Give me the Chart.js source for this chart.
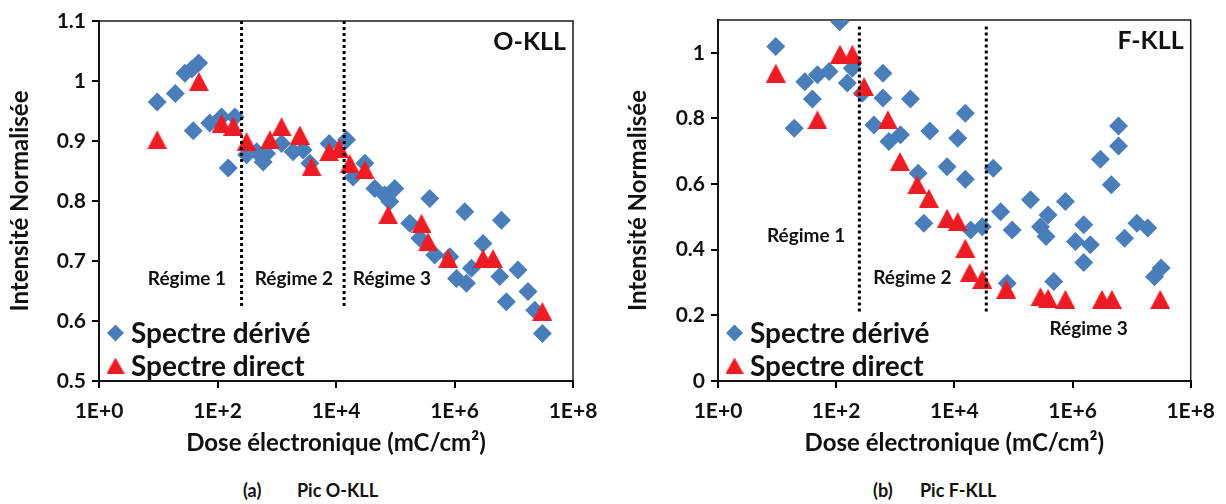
<!DOCTYPE html>
<html lang="fr">
<head>
<meta charset="utf-8">
<script src="https://cdn.jsdelivr.net/npm/chart.js@4.4.1/dist/chart.umd.min.js"></script>
<style>
    body { margin: 0; width: 1226px; height: 504px; background: #fff; position: relative; overflow: hidden; font-family: Lato, sans-serif; }
    .panneau { position: absolute; top: 0; height: 460px; }
    .legende-fig { position: absolute; top: 479px; font: bold 18px Lato, sans-serif; color: #111; white-space: nowrap; }
</style>
</head>
<body>
<div class="panneau" style="left:0; width:610px;"><canvas id="graph-o-kll"></canvas></div>
<div class="panneau" style="left:610px; width:616px;"><canvas id="graph-f-kll"></canvas></div>
<div class="legende-fig" style="left:243px;">(a)</div>
<div class="legende-fig" style="left:297px;">Pic O-KLL</div>
<div class="legende-fig" style="left:873px;">(b)</div>
<div class="legende-fig" style="left:920px;">Pic F-KLL</div>
<script>
'use strict';

// Noms des séries
const nomsSeries = ['Spectre dérivé', 'Spectre direct'];

// Graduations
const ticksDose = [1, 1e2, 1e4, 1e6, 1e8];
const ticksO = [0.5, 0.6, 0.7, 0.8, 0.9, 1.0, 1.1];
const ticksF = [0, 0.2, 0.4, 0.6, 0.8, 1.0];

// Pic O-KLL : spectre dérivé
const doseDeriveO = [9.6, 19.4, 28.2, 37, 48, 39, 74, 117, 197, 152, 310, 457, 590, 673, 1205, 1890, 2790, 3620,
    7660, 15070, 19450, 30640, 45150, 66640, 98300, 80900, 382500, 175800, 259500, 464500, 831800,
    1.49e6, 1.08e6, 1.59e6, 1.93e6, 3.03e6, 6.2e6, 5.8e6, 1.18e7, 7.5e6, 1.74e7, 2.26e7, 3.04e7];
const intDeriveO = [0.965, 0.979, 1.013, 1.02, 1.030, 0.917, 0.930, 0.940, 0.940, 0.855, 0.877, 0.882, 0.865, 0.879,
    0.896, 0.882, 0.885, 0.863, 0.896, 0.902, 0.840, 0.863, 0.821, 0.810, 0.821, 0.799, 0.804, 0.763, 0.738,
    0.710, 0.707, 0.782, 0.671, 0.663, 0.688, 0.729, 0.768, 0.674, 0.685, 0.632, 0.649, 0.618, 0.579];

// Pic O-KLL : spectre direct
const doseDirectO = [9.6, 48.6, 117, 184, 310, 766, 1205, 2455, 3870, 7660, 11300, 17100, 30640, 75700,
    277300, 358000, 778000, 3.03e6, 4.47e6, 3.04e7];
const intDirectO = [0.902, 0.999, 0.929, 0.925, 0.899, 0.902, 0.924, 0.910, 0.857, 0.882, 0.888, 0.862, 0.852,
    0.777, 0.763, 0.732, 0.704, 0.704, 0.704, 0.616];

// Pic F-KLL : spectre dérivé
const doseDeriveF = [9.5, 115, 19.5, 29.4, 39.6, 48.2, 75.9, 154.5, 187.7, 276.6, 619, 619, 1808, 436, 781, 1227,
    3845, 11410, 15340, 7530, 2440, 3048, 15340, 18900, 29700, 45500, 60700, 95300, 194700, 287000, 385700,
    357000, 481600, 78500, 758600, 1.12e6, 1.55e6, 2.0e6, 1.55e6, 2.96e6, 6.0e6, 6.0e6, 4.54e6, 7.6e6,
    1.23e7, 1.88e7, 2.44e7, 3.16e7];
const intDeriveF = [1.019, 1.095, 0.770, 0.912, 0.859, 0.933, 0.943, 0.908, 0.953, 0.877, 0.938, 0.862, 0.859,
    0.780, 0.730, 0.750, 0.762, 0.740, 0.816, 0.653, 0.633, 0.481, 0.615, 0.460, 0.470, 0.648, 0.516, 0.460,
    0.552, 0.470, 0.506, 0.440, 0.303, 0.298, 0.547, 0.425, 0.476, 0.415, 0.361, 0.676, 0.777, 0.716, 0.598,
    0.435, 0.481, 0.466, 0.318, 0.344];

// Pic F-KLL : spectre direct
const doseDirectF = [9.5, 48.2, 116, 187.7, 296, 751, 1198, 2346, 3700, 7530, 11410, 15340, 18200, 29700, 75500,
    287000, 385700, 758600, 3.15e6, 4.64e6, 3.05e7];
const intDirectF = [0.938, 0.796, 0.996, 0.996, 0.897, 0.796, 0.669, 0.598, 0.557, 0.496, 0.486, 0.405, 0.330,
    0.310, 0.280, 0.257, 0.252, 0.249, 0.249, 0.249, 0.249];

// Limites entre régimes (dose) et étendue verticale des pointillés
const limitesO = [255, 13700];
const bornesLimitesO = [1.1, 0.624];
const limitesF = [247, 34700];
const bornesLimitesF = [1.08, 0.211];

// Étiquettes des régimes (position en coordonnées des données)
const regimesO = [
    { texte: 'Régime 1', x: 30.5, y: 0.67 },
    { texte: 'Régime 2', x: 1950, y: 0.67 },
    { texte: 'Régime 3', x: 88000, y: 0.67 }
];
const regimesF = [
    { texte: 'Régime 1', x: 31, y: 0.442 },
    { texte: 'Régime 2', x: 1950, y: 0.315 },
    { texte: 'Régime 3', x: 1.87e6, y: 0.158 }
];

const bleu = '#4A7EBB';
const rouge = '#ED1C24';
const police = 'Lato, sans-serif';

// Triangle dessiné sur un petit canvas, centré sur sa boîte (comme Excel)
function creerTriangle(l, h, couleur) {
    const c = document.createElement('canvas');
    c.width = l;
    c.height = h;
    const ctx = c.getContext('2d');
    ctx.fillStyle = couleur;
    ctx.beginPath();
    ctx.moveTo(l / 2, 0);
    ctx.lineTo(l, h);
    ctx.lineTo(0, h);
    ctx.closePath();
    ctx.fill();
    return c;
}
const triangle = creerTriangle(20, 19, rouge);
const triangleLegende = creerTriangle(18, 16, rouge);

// Cadre, titre, étiquettes des régimes et légende interne
const pluginDecor = {
    id: 'decor',
    beforeDatasetsDraw(chart, args, opts) {
        const a = chart.chartArea;
        const ctx = chart.ctx;
        ctx.save();
        ctx.strokeStyle = '#1a1a1a';
        ctx.lineWidth = 1.5;
        ctx.strokeRect(a.left, a.top, a.right - a.left, a.bottom - a.top);
        ctx.restore();
    },
    afterDraw(chart, args, opts) {
        const a = chart.chartArea;
        const ctx = chart.ctx;
        const sx = chart.scales.x;
        const sy = chart.scales.y;
        ctx.save();
        ctx.fillStyle = '#111';
        ctx.textBaseline = 'middle';

        ctx.font = 'bold 25px ' + police;
        ctx.textAlign = 'right';
        ctx.fillText(opts.titre, a.right - 7, a.top + 21);

        ctx.font = 'bold 19px ' + police;
        ctx.textAlign = 'center';
        opts.regimes.forEach(r => {
            ctx.fillText(r.texte, sx.getPixelForValue(r.x), sy.getPixelForValue(r.y));
        });

        ctx.font = 'bold 28px ' + police;
        ctx.textAlign = 'left';
        chart.data.datasets.filter(d => d.legende).forEach((d, k) => {
            const y = a.bottom - 48 + k * 32.5;
            const x = a.left + 16.5;
            if (d.pointStyle === 'rectRot') {
                ctx.fillStyle = d.backgroundColor;
                ctx.beginPath();
                ctx.moveTo(x - 8.5, y);
                ctx.lineTo(x, y - 8.5);
                ctx.lineTo(x + 8.5, y);
                ctx.lineTo(x, y + 8.5);
                ctx.closePath();
                ctx.fill();
            } else {
                ctx.drawImage(triangleLegende, x - 9, y - 8);
            }
            ctx.fillStyle = '#111';
            ctx.fillText(d.label, a.left + 32, y + 1);
        });
        ctx.restore();
    }
};

function points(xs, ys) {
    return xs.map((x, i) => ({ x: x, y: ys[i] }));
}

// Construit un panneau (graphique nuage de points en échelle log)
function dessinerPanneau(id, p) {
    const datasets = [
        {
            label: nomsSeries[0],
            data: points(p.doseDerive, p.intDerive),
            pointStyle: 'rectRot',
            pointRadius: 9.5,
            pointBorderWidth: 0,
            backgroundColor: bleu,
            borderColor: bleu,
            order: 2,
            legende: true
        },
        {
            label: nomsSeries[1],
            data: points(p.doseDirect, p.intDirect),
            pointStyle: triangle,
            pointRadius: 10,
            backgroundColor: rouge,
            borderColor: rouge,
            order: 1,
            legende: true
        }
    ];
    p.limites.forEach(x => {
        datasets.push({
            label: 'limite',
            data: points([x, x], p.bornesLimites),
            showLine: true,
            borderColor: '#000',
            borderWidth: 3,
            borderDash: [3, 3],
            pointRadius: 0,
            order: 0
        });
    });

    const ctx = document.getElementById(id).getContext('2d');
    new Chart(ctx, {
        type: 'scatter',
        data: { datasets: datasets },
        plugins: [pluginDecor],
        options: {
            responsive: true,
            maintainAspectRatio: false,
            animation: false,
            devicePixelRatio: 1,
            layout: { padding: { left: 0, top: p.haut, right: p.droite, bottom: 0 } },
            plugins: {
                legend: { display: false },
                tooltip: { enabled: false },
                decor: { titre: p.titre, regimes: p.regimes }
            },
            scales: {
                x: {
                    type: 'logarithmic',
                    min: 1,
                    max: 1e8,
                    afterBuildTicks: s => { s.ticks = ticksDose.map(v => ({ value: v })); },
                    afterFit: s => { s.height = 79; },
                    ticks: {
                        color: '#111',
                        font: { family: police, size: 21, weight: 'bold' },
                        padding: 11,
                        maxRotation: 0,
                        callback: v => '1E+' + Math.round(Math.log10(v))
                    },
                    grid: { drawOnChartArea: false, color: '#000', lineWidth: 2, tickLength: 7 },
                    border: { display: true, color: '#000', width: 2 },
                    title: {
                        display: true,
                        text: 'Dose électronique (mC/cm²)',
                        color: '#111',
                        font: { family: police, size: 24, weight: 'bold' },
                        padding: { top: 0, bottom: 2 }
                    }
                },
                y: {
                    min: p.ymin,
                    max: p.ymax,
                    afterBuildTicks: s => { s.ticks = p.ticksY.map(v => ({ value: v })); },
                    afterFit: s => { s.width = p.largeurY; },
                    ticks: {
                        color: '#111',
                        font: { family: police, size: 21, weight: 'bold' },
                        padding: 6,
                        callback: v => String(Number(v.toFixed(1)))
                    },
                    grid: { drawOnChartArea: false, color: '#000', lineWidth: 2, tickLength: 7 },
                    border: { display: true, color: '#000', width: 2 },
                    title: {
                        display: true,
                        text: 'Intensité Normalisée',
                        color: '#111',
                        font: { family: police, size: 24, weight: 'bold' },
                        padding: { top: p.padTitreY, bottom: 0 }
                    }
                }
            }
        }
    });
}

dessinerPanneau('graph-o-kll', {
    titre: 'O-KLL',
    doseDerive: doseDeriveO, intDerive: intDeriveO,
    doseDirect: doseDirectO, intDirect: intDirectO,
    limites: limitesO, bornesLimites: bornesLimitesO,
    regimes: regimesO,
    ticksY: ticksO, ymin: 0.5, ymax: 1.1,
    largeurY: 99, haut: 21, droite: 37, padTitreY: 6
});

dessinerPanneau('graph-f-kll', {
    titre: 'F-KLL',
    doseDerive: doseDeriveF, intDerive: intDeriveF,
    doseDirect: doseDirectF, intDirect: intDirectF,
    limites: limitesF, bornesLimites: bornesLimitesF,
    regimes: regimesF,
    ticksY: ticksF, ymin: 0, ymax: 1.1,
    largeurY: 108, haut: 20, droite: 34, padTitreY: 14
});
</script>
</body>
</html>
